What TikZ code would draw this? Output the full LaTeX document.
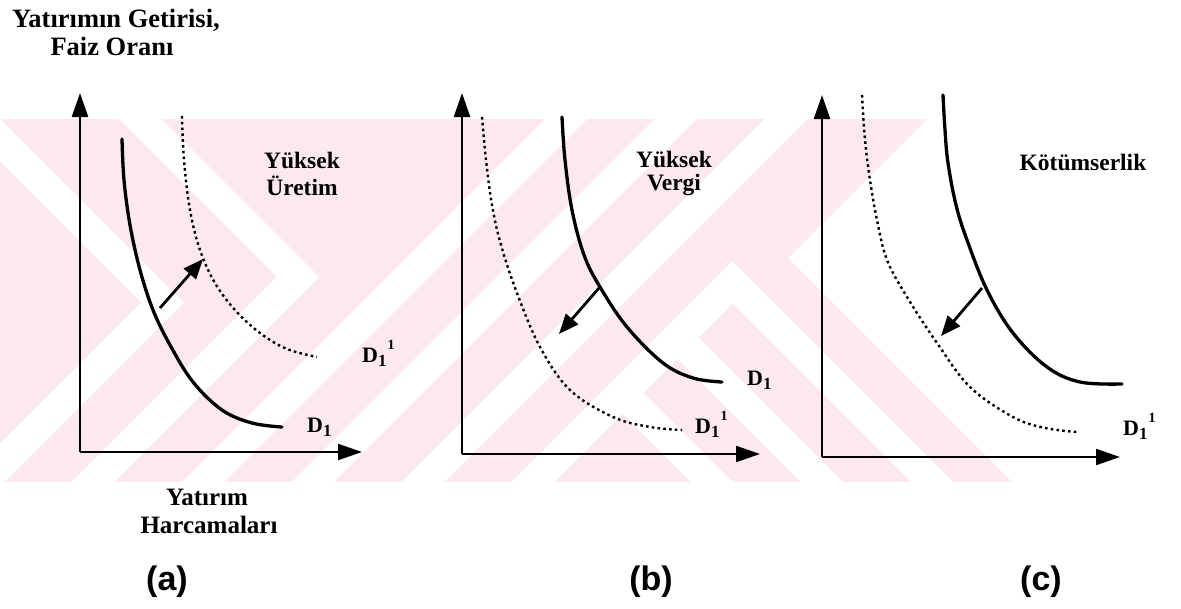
\documentclass[tikz,border=0pt]{standalone}
\usepackage{fontspec}
\setmainfont{Liberation Serif}
\newfontfamily\arialfont{Liberation Sans}
\usetikzlibrary{arrows.meta}
\definecolor{wmpink}{RGB}{252,233,237}
\newcommand{\subone}{\raisebox{-0.22em}{\fontsize{17}{17}\selectfont 1}}
\newcommand{\supone}{\raisebox{0.55em}{\fontsize{14}{14}\selectfont\kern1pt 1}}
\begin{document}
\begin{tikzpicture}[x=1pt,y=-1pt,
  axisline/.style={line width=2.2pt,-{Triangle[length=24pt,width=16pt]}},
  demand/.style={line width=3.3pt,line cap=round},
  shifted/.style={line width=2.4pt,dash pattern=on 2.6pt off 3.2pt},
  shiftarr/.style={line width=2.8pt,-{Triangle[length=20pt,width=16pt]}},
  lbl/.style={font=\bfseries\fontsize{23.5}{27}\selectfont,inner sep=0pt,anchor=base},
  dlbl/.style={font=\bfseries\fontsize{22}{24}\selectfont,inner sep=0pt,anchor=base west},
  ttl/.style={font=\bfseries\fontsize{26.5}{28}\selectfont,inner sep=0pt,anchor=base},
  xlbl/.style={font=\bfseries\fontsize{25}{28}\selectfont,inner sep=0pt,anchor=base},
  panel/.style={font=\arialfont\bfseries\fontsize{34}{36}\selectfont,inner sep=0pt,anchor=base},
  wm/.style={white,line width=30pt,line join=miter}
]
\useasboundingbox (0,0) rectangle (1181,608);
% watermark
\begin{scope}
  \clip (0,119) -- (927,119) -- (788,258) -- (1012,482) -- (0,482) -- cycle;
  \fill[wmpink] (0,119) rectangle (1181,482);
  \draw[wm] (-40,100) -- (162.5,302.5) -- (-35,500);
  \draw[wm] (121,100) -- (298,277) -- (75,500);
  \draw[wm] (185,500) -- (585,100);
  \draw[wm] (295,500) -- (695,100);
  \draw[wm] (405,500) -- (805,100);
  \draw[wm] (515,500) -- (732.5,282.5) -- (950,500);
  \draw[wm] (677.5,337.5) -- (840,500);
  \draw[wm] (622.5,392.5) -- (730,500);
\end{scope}
% ---------- panel (a)
\coordinate (Oa) at (80,452);
\coordinate (Ya) at (80,93);
\coordinate (Xa) at (362,452);
\draw[axisline] (Oa) -- (Ya);
\draw[axisline] (Oa) -- (Xa);
\draw[demand] plot[smooth,tension=0.6] coordinates {(122,139) (124,180) (130,225) (140,270) (153,310) (170,345) (193,382) (222,410) (252,423) (282,427)};
\draw[shifted] plot[smooth,tension=0.6] coordinates {(182,116) (184,160) (190,210) (200,250) (215,283) (235,310) (260,333) (287,349) (317,357)};
\coordinate (sa1) at (160,308);
\coordinate (sa2) at (203,259);
\draw[shiftarr] (sa1) -- (sa2);
\node[lbl] (ya1) at (302,168) {Yüksek};
\node[lbl] (ya2) at (302,195) {Üretim};
\node[dlbl] (da1) at (307,432) {D\subone};
\node[dlbl] (da2) at (362,362) {D\subone\supone};
% ---------- panel (b)
\coordinate (Ob) at (462,454);
\coordinate (Yb) at (462,93);
\coordinate (Xb) at (760,454);
\draw[axisline] (Ob) -- (Yb);
\draw[axisline] (Ob) -- (Xb);
\draw[demand] plot[smooth,tension=0.6] coordinates {(562,117) (565,160) (572,210) (584,255) (600,287) (627,327) (663,363) (693,378) (722,382)};
\draw[shifted] plot[smooth,tension=0.6] coordinates {(482,117) (486,160) (492,205) (501,245) (517,293) (540,347) (570,390) (613,417) (650,427) (682,430)};
\coordinate (sb1) at (599,288);
\coordinate (sb2) at (559,334);
\draw[shiftarr] (sb1) -- (sb2);
\node[lbl] (yb1) at (674,167) {Yüksek};
\node[lbl] (yb2) at (674,190) {Vergi};
\node[dlbl] (db1) at (747,385) {D\subone};
\node[dlbl] (db2) at (695,433) {D\subone\supone};
% ---------- panel (c)
\coordinate (Oc) at (822,457);
\coordinate (Yc) at (822,95);
\coordinate (Xc) at (1120,457);
\draw[axisline] (Oc) -- (Yc);
\draw[axisline] (Oc) -- (Xc);
\draw[demand] plot[smooth,tension=0.6] coordinates {(943,95) (945,130) (948,163) (956,205) (967,240) (987,290) (1013,333) (1047,367) (1080,382) (1122,384)};
\draw[shifted] plot[smooth,tension=0.6] coordinates {(862,95) (865,140) (870,180) (877,220) (887,260) (907,297) (937,343) (970,387) (1013,417) (1045,428) (1077,432)};
\coordinate (sc1) at (982,288);
\coordinate (sc2) at (941,336);
\draw[shiftarr] (sc1) -- (sc2);
\node[lbl] (kc) at (1083,170) {Kötümserlik};
\node[dlbl] (dc2) at (1123,435) {D\subone\supone};
% ---------- titles
\node[ttl] (t1) at (116,27) {Yatırımın Getirisi,};
\node[ttl] (t2) at (112,55) {Faiz Oranı};
\node[xlbl] (x1) at (207,505) {Yatırım};
\node[xlbl] (x2) at (209,533) {Harcamaları};
\node[panel] (pa) at (167,590) {(a)};
\node[panel] (pb) at (651,590) {(b)};
\node[panel] (pc) at (1041,590) {(c)};
\end{tikzpicture}
\end{document}
